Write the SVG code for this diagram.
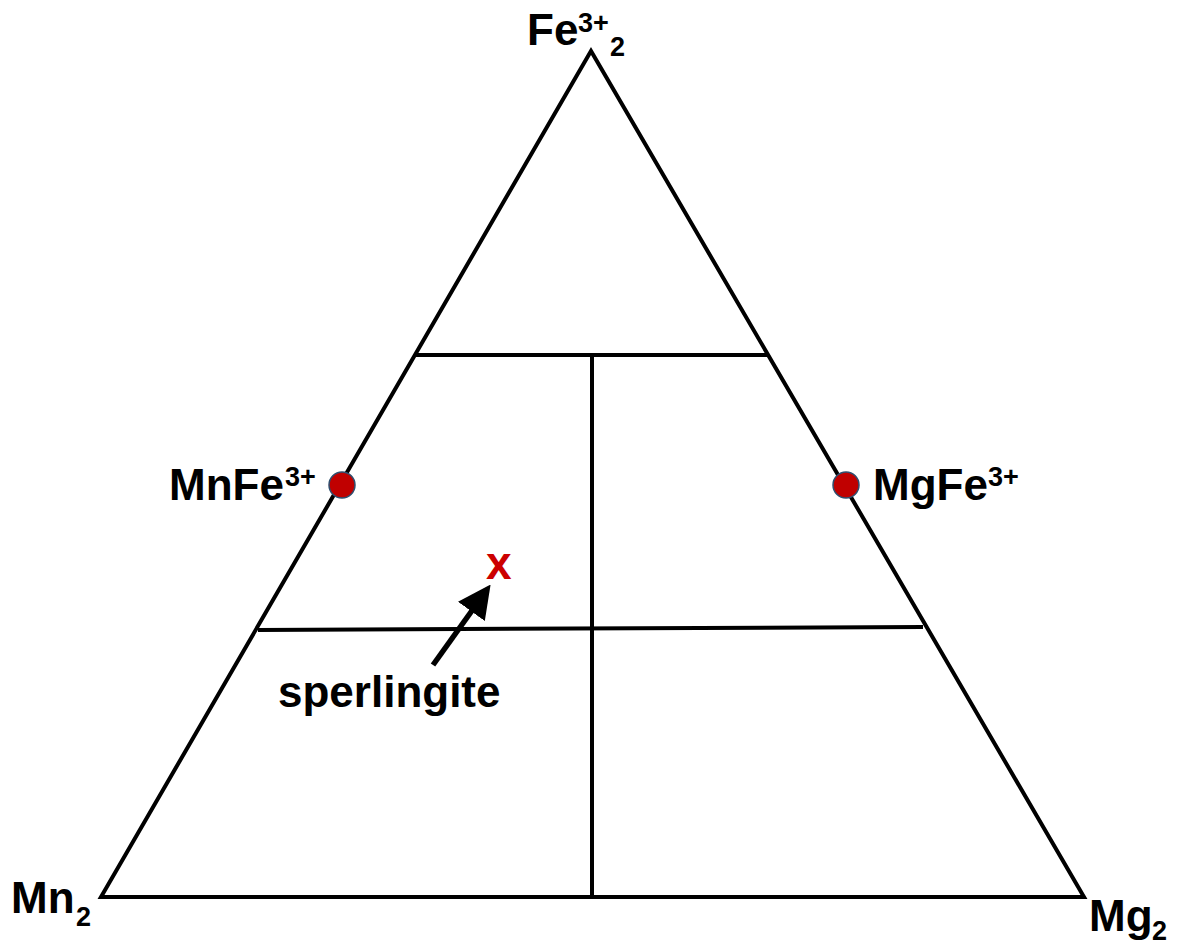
<svg xmlns="http://www.w3.org/2000/svg" width="1178" height="947" viewBox="0 0 1178 947">
<style>
.t{font-family:"Liberation Sans",Arial,sans-serif;font-weight:bold;fill:#000}
.big{font-size:44px}
.small{font-size:27px}
.ln{stroke:#000;stroke-width:4;fill:none}
.dot{fill:#c00000;stroke:#2f4f6f;stroke-width:1.5}
</style>
<defs>
<marker id="ah" markerWidth="6" markerHeight="6" refX="3" refY="3" orient="auto" markerUnits="strokeWidth">
<path d="M0,0 L6,3 L0,6 Z" fill="#000"/>
</marker>
</defs>
<rect width="1178" height="947" fill="#fff"/>
<g id="triangle">
<polygon class="ln" points="591,51 101,897 1084,897" stroke-width="4.5" stroke-linejoin="miter" stroke-miterlimit="10"/>
</g>
<g id="connectors">
<line class="ln" x1="416" y1="355" x2="767" y2="355"/>
<line class="ln" x1="258" y1="630" x2="923" y2="627"/>
<line class="ln" x1="592" y1="355" x2="592" y2="897"/>
<line x1="433" y1="665" x2="481" y2="598" stroke="#000" stroke-width="5.5" marker-end="url(#ah)"/>
</g>
<g id="apex-label">
<text class="t big" x="527" y="45">Fe</text>
<text class="t small" x="578" y="32">3+</text>
<text class="t small" x="610" y="56">2</text>
</g>
<g id="mn2-label">
<text class="t big" x="11" y="913">Mn</text>
<text class="t small" x="76" y="926">2</text>
</g>
<g id="mg2-label">
<text class="t big" x="1089" y="931">Mg</text>
<text class="t small" x="1152" y="940">2</text>
</g>
<g id="mnfe-node">
<circle class="dot" cx="342" cy="485" r="13"/>
<text class="t big" x="169" y="500">MnFe</text>
<text class="t small" x="285" y="486">3+</text>
</g>
<g id="mgfe-node">
<circle class="dot" cx="846" cy="485" r="13"/>
<text class="t big" x="873" y="500">MgFe</text>
<text class="t small" x="988" y="486">3+</text>
</g>
<g id="sperlingite-point">
<text class="t" x="486" y="579" style="font-size:46px;fill:#cc0000">x</text>
<text class="t big" x="278" y="707">sperlingite</text>
</g>
</svg>
